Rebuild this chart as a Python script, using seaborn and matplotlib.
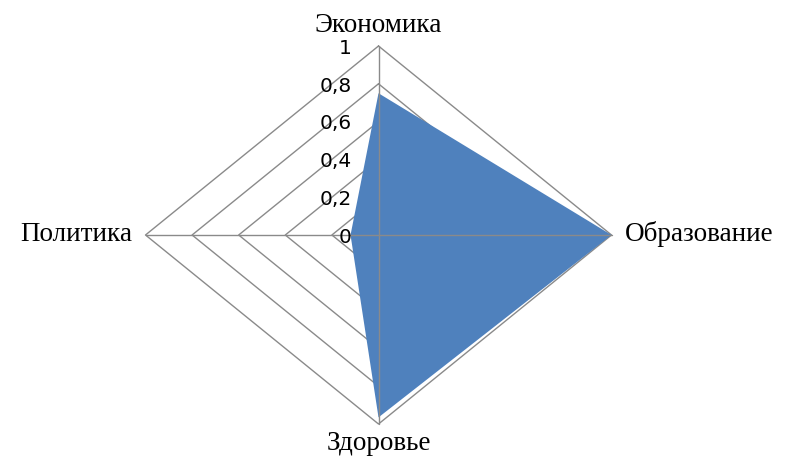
import numpy as np
import matplotlib
matplotlib.use("Agg")
import matplotlib.pyplot as plt
import seaborn as sns

# Данные радарной диаграммы
categories = ["Экономика", "Образование", "Здоровье", "Политика"]
values = [0.75, 1.0, 0.965, 0.12]
ring_levels = [0.2, 0.4, 0.6, 0.8, 1.0]
tick_labels = ["0", "0,2", "0,4", "0,6", "0,8", "1"]
tick_values = [0.0, 0.2, 0.4, 0.6, 0.8, 1.0]

sns.set_theme(style="white")
plt.rcParams['font.family'] = ['DejaVu Sans']

fill_color = "#4F81BD"
grid_color = "#8a8a8a"

# углы: сверху по часовой стрелке
angles = np.pi / 2 - np.arange(len(categories)) * 2 * np.pi / len(categories)
cx, cy = np.cos(angles), np.sin(angles)

fig = plt.figure(figsize=(7.85, 4.57), dpi=100)
ax = fig.add_axes([0, 0, 1, 1])
ax.set_xlim(-378.5 / 233, (785 - 378.5) / 233)
ax.set_ylim(-222 / 189, (457 - 222) / 189)
ax.axis("off")

# кольца сетки
for r in ring_levels:
    xs = np.append(cx * r, cx[0] * r)
    ys = np.append(cy * r, cy[0] * r)
    ax.plot(xs, ys, color=grid_color, lw=1.0, zorder=1)

# ряд данных
v = np.array(values)
ax.fill(cx * v, cy * v, color=fill_color, zorder=2, lw=0)

# оси (поверх заливки)
for a_x, a_y in zip(cx, cy):
    ax.plot([0, a_x], [0, a_y], color=grid_color, lw=1.0, zorder=3)

# подписи шкалы
for t, lab in zip(tick_values, tick_labels):
    ax.text(-0.114, t - 0.012, lab, ha="right", va="center",
            fontsize=14.5, color="black", zorder=4)

# подписи категорий
serif = ["Liberation Serif", "DejaVu Serif"]
lab_kw = dict(fontsize=19.5, family=serif, color="black")
ax.text(0, 1.074, categories[0], ha="center", va="baseline", **lab_kw)
ax.text(1.058, 0.005, categories[1], ha="left", va="center", **lab_kw)
ax.text(0, -1.135, categories[2], ha="center", va="baseline", **lab_kw)
ax.text(-1.058, 0.005, categories[3], ha="right", va="center", **lab_kw)

fig.savefig("out.png", dpi=100)
